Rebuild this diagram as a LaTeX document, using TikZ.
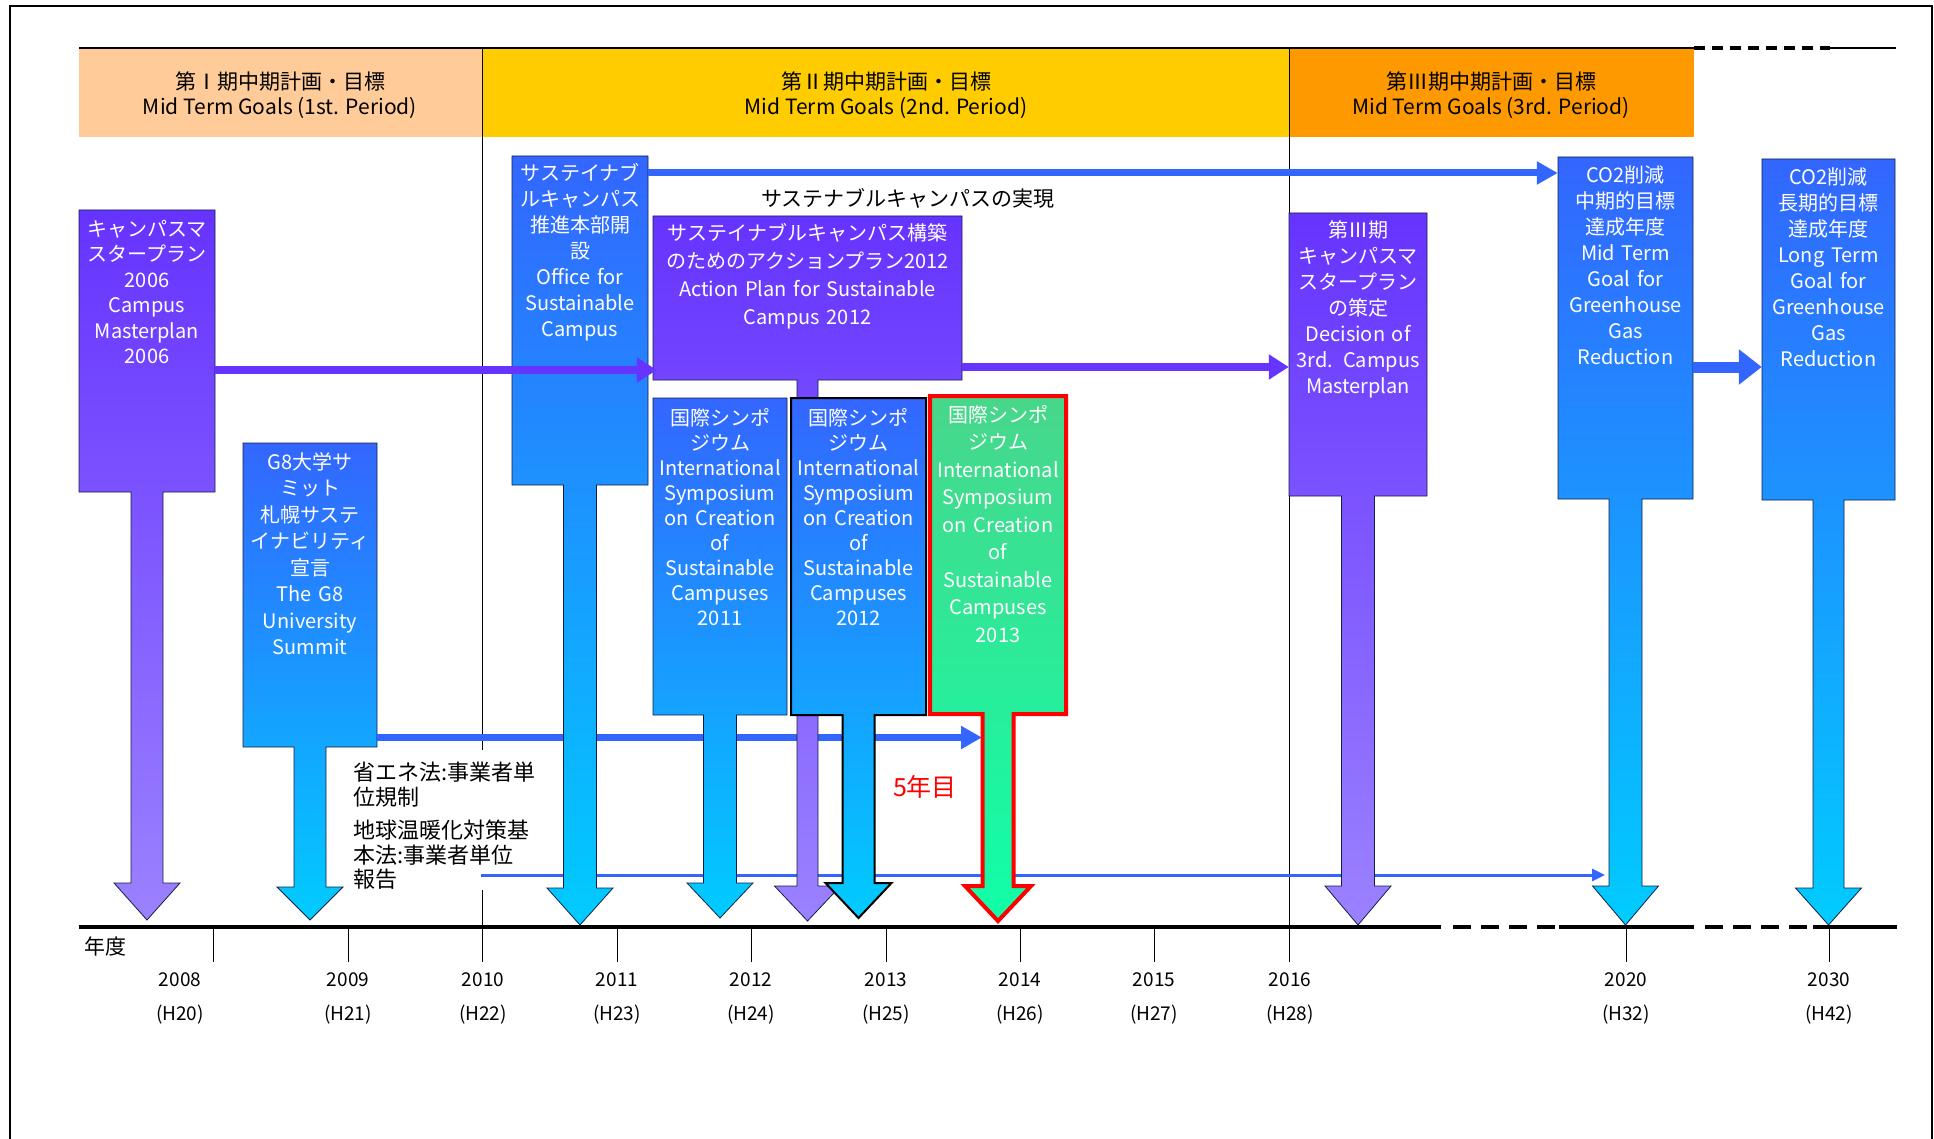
\documentclass[tikz,border=0pt]{standalone}
\usepackage{fontspec}
\setmainfont{Noto Sans CJK JP}
\usepackage{tikz}
\usetikzlibrary{arrows.meta}

\definecolor{pTop}{RGB}{102,51,255}
\definecolor{pBot}{RGB}{155,130,255}
\definecolor{bTop}{RGB}{51,102,255}
\definecolor{bBot}{RGB}{0,204,255}
\definecolor{gTop}{RGB}{72,214,138}
\definecolor{gBot}{RGB}{16,255,168}
\definecolor{band1}{RGB}{255,204,153}
\definecolor{band2}{RGB}{255,204,0}
\definecolor{band3}{RGB}{255,153,0}
\definecolor{lineBlue}{RGB}{51,102,255}
\definecolor{linePurple}{RGB}{102,51,255}
\definecolor{edge}{RGB}{20,30,70}

% box with a downward arrow: style, left, right, top, box bottom, head top, tip, stem half width
\newcommand{\tlcallout}[8]{%
  \path[#1] (#2,#4) -- (#3,#4) -- (#3,#5)
    -- ({(#2+#3)/2+#8},#5) -- ({(#2+#3)/2+#8},#6) -- ({(#2+#3)/2+33},#6)
    -- ({(#2+#3)/2},#7) -- ({(#2+#3)/2-33},#6) -- ({(#2+#3)/2-#8},#6)
    -- ({(#2+#3)/2-#8},#5) -- (#2,#5) -- cycle;}

\begin{document}
\begin{tikzpicture}[x=1pt,y=-1pt,
    boxtxt/.style={anchor=north,align=center,inner sep=0pt,text=white,font=\fontsize{20}{25.5}\selectfont},
    hdr/.style={align=center,font=\fontsize{21}{25}\selectfont},
    yrlab/.style={font=\fontsize{19}{22}\selectfont},
    purpfill/.style={draw=edge,line width=0.8pt,top color=pTop,bottom color=pBot},
    bluefill/.style={draw=edge,line width=0.8pt,top color=bTop,bottom color=bBot},
    greenfill/.style={draw=red,line width=4pt,top color=gTop,bottom color=gBot},
    bline/.style={draw=lineBlue,line width=7pt,-{Triangle[length=21pt,width=22pt]}},
    pline/.style={draw=linePurple,line width=8pt,-{Triangle[length=20pt,width=24pt]}}]
    \useasboundingbox (0,0) rectangle (1934,1139);

    % Frame
    \draw[line width=2pt] (10,1145) -- (10,6) -- (1932,6) -- (1932,1145);

    % Mid term periods
    \fill[band1] (79,48) rectangle (482,137);
    \fill[band2] (482,48) rectangle (1289,137);
    \fill[band3] (1289,48) rectangle (1694,137);
    \draw[line width=1.5pt] (79,48) -- (1694,48);
    \draw[line width=4pt,dash pattern=on 11pt off 7pt] (1694,48) -- (1830,48);
    \draw[line width=1.5pt] (1830,48) -- (1896,48);
    \node[hdr] (hd1) at (280,95) {第Ⅰ期中期計画・目標\\Mid Term Goals (1st. Period)};
    \node[hdr] (hd2) at (886,95) {第Ⅱ期中期計画・目標\\Mid Term Goals (2nd. Period)};
    \node[hdr] (hd3) at (1491,95) {第Ⅲ期中期計画・目標\\Mid Term Goals (3rd. Period)};

    % Period borders
    \draw[line width=1pt] (482,48) -- (482,750);
    \draw[line width=1pt] (482,890) -- (482,962);
    \draw[line width=1pt] (1289,48) -- (1289,962);

    % Time axis
    \draw[line width=4.5pt] (79,927) -- (1441,927);
    \draw[line width=4.5pt,dash pattern=on 17.5pt off 10.5pt] (1453,927) -- (1559,927);
    \draw[line width=4.5pt] (1559,927) -- (1694,927);
    \draw[line width=4.5pt,dash pattern=on 17.5pt off 10.5pt] (1705,927) -- (1813,927);
    \draw[line width=4.5pt] (1813,927) -- (1897,927);
    \foreach \x in {213,348,617,751,886,1020,1154,1626,1829}
        \draw[line width=1pt] (\x,927) -- (\x,962);
    \node[font=\fontsize{21}{24}\selectfont] (nendo) at (105,946) {年度};
    \foreach \x/\yr/\hy in {180/2008/H20,348/2009/H21,483/2010/H22,617/2011/H23,751/2012/H24,
            886/2013/H25,1020/2014/H26,1154/2015/H27,1290/2016/H28,1626/2020/H32,1829/2030/H42} {
        \node[yrlab] (y\yr) at (\x,980) {\yr};
        \node[yrlab] (h\yr) at (\x,1015) {(\hy)};
    }

    % Coordinates for the connectors
    \coordinate (yB) at (0,173);
    \coordinate (yP) at (0,370);
    \coordinate (yQ) at (0,367);
    \coordinate (yG) at (0,737.5);
    \coordinate (gstem) at (982,737.5);
    \coordinate (lawL) at (481,875);
    \coordinate (lawR) at (1605,875);

    % Lines behind the arrows
    \draw[draw=lineBlue,line width=3pt,-{Triangle[length=13pt,width=12pt]}] (lawL) -- (lawR);

    % Events
    \tlcallout{purpfill}{79}{215}{210}{492}{883}{920}{16}
    \node[boxtxt,text width=136pt] (campus) at (147,220)
        {キャンパスマ\\スタープラン\\2006\\Campus\\Masterplan\\2006};

    \tlcallout{bluefill}{243}{377}{443}{747}{887}{920}{16}
    \node[boxtxt,text width=134pt,font=\fontsize{20}{26.5}\selectfont] (g8) at (310,452)
        {G8大学サ\\ミット\\札幌サステ\\イナビリティ\\宣言\\The G8\\University\\Summit};
    \draw[bline] (g8.east |- yG) -- (gstem);

    \tlcallout{bluefill}{512}{648}{156}{485}{888}{925}{16.5}
    \node[boxtxt,text width=136pt,font=\fontsize{20}{26}\selectfont] (office) at (580,163)
        {サステイナブ\\ルキャンパス\\推進本部開\\設\\Office for\\Sustainable\\Campus};

    \tlcallout{purpfill}{653}{962}{216}{380}{886}{921}{10.5}
    \node[boxtxt,text width=309pt,font=\fontsize{20}{28}\selectfont] (plan) at (807.5,223)
        {サステイナブルキャンパス構築\\のためのアクションプラン2012\\Action Plan for Sustainable\\Campus 2012};
    \draw[pline] (campus.east |- yP) -- ([xshift=4pt]plan.west |- yP);

    \tlcallout{bluefill}{653}{787}{398}{715}{883}{918}{16.5}
    \node[boxtxt,text width=134pt,font=\fontsize{20}{25}\selectfont] (sym11) at (720,408)
        {国際シンポ\\ジウム\\International\\Symposium\\on Creation\\of\\Sustainable\\Campuses\\2011};

    \tlcallout{bluefill,draw=black,line width=2pt}{791}{926}{398}{715}{883}{918}{16}
    \node[boxtxt,text width=135pt,font=\fontsize{20}{25}\selectfont] (sym12) at (858.5,408)
        {国際シンポ\\ジウム\\International\\Symposium\\on Creation\\of\\Sustainable\\Campuses\\2012};

    \tlcallout{greenfill}{930}{1066}{396}{714}{886}{921}{15.5}
    \node[boxtxt,text width=136pt,font=\fontsize{20}{27.5}\selectfont] (sym13) at (998,405)
        {国際シンポ\\ジウム\\International\\Symposium\\on Creation\\of\\Sustainable\\Campuses\\2013};

    \tlcallout{purpfill}{1289}{1427}{213}{496}{886}{925}{16.5}
    \node[boxtxt,text width=138pt,font=\fontsize{20}{26}\selectfont] (mp3) at (1358,220)
        {第Ⅲ期\\キャンパスマ\\スタープラン\\の策定\\Decision of\\3rd. Campus\\Masterplan};
    \draw[pline] (plan.east |- yQ) -- (mp3.west |- yQ);

    \tlcallout{bluefill}{1558}{1693}{157}{499}{886}{925}{16.5}
    \node[boxtxt,text width=135pt,font=\fontsize{20}{26}\selectfont] (co2m) at (1625.5,165)
        {CO2削減\\中期的目標\\達成年度\\Mid Term\\Goal for\\Greenhouse\\Gas\\Reduction};

    \tlcallout{bluefill}{1762}{1895}{159}{500}{888}{925}{15.5}
    \node[boxtxt,text width=133pt,font=\fontsize{20}{26}\selectfont] (co2l) at (1828.5,167)
        {CO2削減\\長期的目標\\達成年度\\Long Term\\Goal for\\Greenhouse\\Gas\\Reduction};

    % Connectors on top
    \draw[bline] (office.east |- yB) -- (co2m.west |- yB);
    \draw[draw=lineBlue,line width=11pt,-{Triangle[length=23pt,width=34pt]}]
        (co2m.east |- yQ) -- (co2l.west |- yQ);

    % Labels
    \node[font=\fontsize{21}{24}\selectfont] (goal) at (908,198) {サステナブルキャンパスの実現};
    \node[text=red,font=\fontsize{25}{28}\selectfont] (fifth) at (925,787) {5年目};
    \node[anchor=north west,align=left,inner sep=0pt,font=\fontsize{22}{24.5}\selectfont] (law) at (353,762)
        {省エネ法:事業者単\\位規制\\[9pt]地球温暖化対策基\\本法:事業者単位\\報告};
\end{tikzpicture}
\end{document}
